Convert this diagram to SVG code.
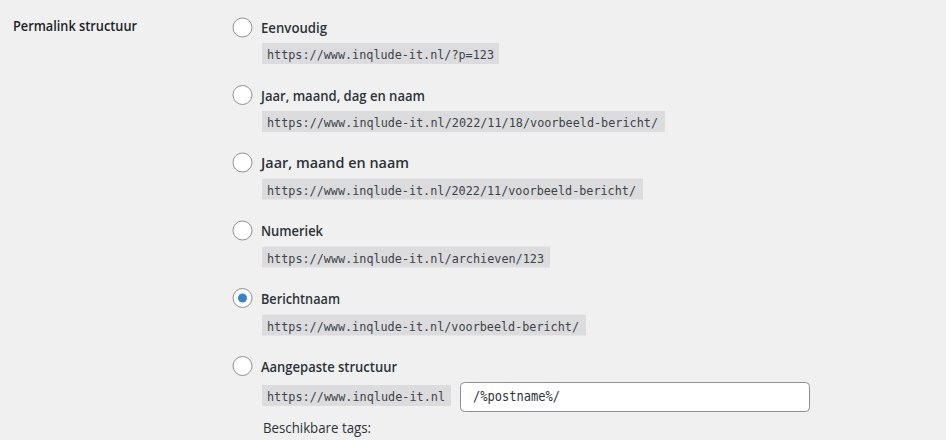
<svg xmlns="http://www.w3.org/2000/svg" width="946" height="440" viewBox="0 0 946 440">
<style>
.bg{fill:#f0f0f1}
.th{font-family:"Open Sans","Noto Sans","Liberation Sans",sans-serif;font-size:14px;font-weight:600;fill:#1d2327}
.lbl{font-family:"Open Sans","Noto Sans","Liberation Sans",sans-serif;font-size:14px;font-weight:600;fill:#2c3338}
.hint{font-family:"Open Sans","Noto Sans","Liberation Sans",sans-serif;font-size:14px;font-weight:400;fill:#2c3338}
.radio{fill:#fff;stroke:#8c8f94;stroke-width:1}
.dot{fill:#3582c4}
.codebg{fill:#dcdcde}
.code{font-family:"DejaVu Sans Mono","Liberation Mono",monospace;font-size:11.8px;fill:#3c434a}
.input{fill:#fff;stroke:#8c8f94;stroke-width:1}
.inp{font-family:"DejaVu Sans Mono","Liberation Mono",monospace;font-size:13.5px;fill:#2c3338}
</style>
<rect class="bg" x="0" y="0" width="946" height="440"/>
<text class="th" x="13" y="31" textLength="124" lengthAdjust="spacingAndGlyphs">Permalink structuur</text>

<g id="opt-eenvoudig">
<circle class="radio" cx="242.5" cy="27.5" r="9.5"/>
<text class="lbl" x="261" y="33" textLength="66" lengthAdjust="spacingAndGlyphs">Eenvoudig</text>
<rect class="codebg" x="262" y="43" width="237" height="21"/>
<text class="code" x="267" y="59" textLength="227" lengthAdjust="spacingAndGlyphs">https://www.inqlude-it.nl/?p=123</text>
</g>

<g id="opt-dag">
<circle class="radio" cx="242.5" cy="95" r="9.5"/>
<text class="lbl" x="261" y="100.5" textLength="164" lengthAdjust="spacingAndGlyphs">Jaar, maand, dag en naam</text>
<rect class="codebg" x="262" y="111" width="403" height="21"/>
<text class="code" x="267" y="127" textLength="391" lengthAdjust="spacingAndGlyphs">https://www.inqlude-it.nl/2022/11/18/voorbeeld-bericht/</text>
</g>

<g id="opt-maand">
<circle class="radio" cx="242.5" cy="162.5" r="9.5"/>
<text class="lbl" x="261" y="168" textLength="148" lengthAdjust="spacingAndGlyphs">Jaar, maand en naam</text>
<rect class="codebg" x="262" y="178.5" width="381" height="21"/>
<text class="code" x="267" y="194.5" textLength="369" lengthAdjust="spacingAndGlyphs">https://www.inqlude-it.nl/2022/11/voorbeeld-bericht/</text>
</g>

<g id="opt-numeriek">
<circle class="radio" cx="242.5" cy="230.5" r="9.5"/>
<text class="lbl" x="261" y="236" textLength="62" lengthAdjust="spacingAndGlyphs">Numeriek</text>
<rect class="codebg" x="262" y="246.5" width="288" height="21"/>
<text class="code" x="267" y="262.5" textLength="277" lengthAdjust="spacingAndGlyphs">https://www.inqlude-it.nl/archieven/123</text>
</g>

<g id="opt-berichtnaam">
<circle class="radio" cx="242.5" cy="298" r="9.5"/>
<circle class="dot" cx="242.5" cy="298" r="4.5"/>
<text class="lbl" x="261" y="303.5" textLength="79" lengthAdjust="spacingAndGlyphs">Berichtnaam</text>
<rect class="codebg" x="262" y="314.5" width="324" height="21"/>
<text class="code" x="267" y="330.5" textLength="312" lengthAdjust="spacingAndGlyphs">https://www.inqlude-it.nl/voorbeeld-bericht/</text>
</g>

<g id="opt-aangepast">
<circle class="radio" cx="242.5" cy="366" r="9.5"/>
<text class="lbl" x="261" y="371.5" textLength="136" lengthAdjust="spacingAndGlyphs">Aangepaste structuur</text>
<rect class="codebg" x="262" y="385" width="189" height="21"/>
<text class="code" x="267" y="401" textLength="178" lengthAdjust="spacingAndGlyphs">https://www.inqlude-it.nl</text>
<rect class="input" x="460.5" y="382.5" width="349" height="29" rx="4"/>
<text class="inp" x="473" y="401" textLength="87" lengthAdjust="spacingAndGlyphs">/%postname%/</text>
<text class="hint" x="263" y="433" textLength="108" lengthAdjust="spacingAndGlyphs">Beschikbare tags:</text>
</g>
</svg>
